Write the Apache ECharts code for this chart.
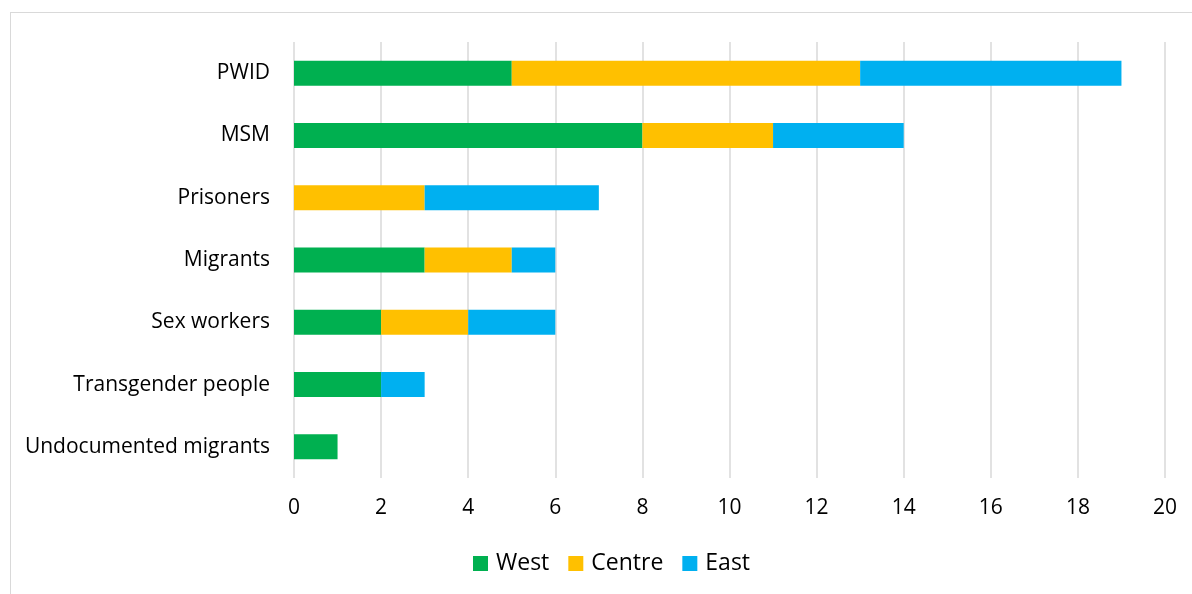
<!DOCTYPE html>
<html><head><meta charset="utf-8">
<script src="https://cdn.jsdelivr.net/npm/echarts@6/dist/echarts.min.js"></script>
<style>html,body{margin:0;padding:0;background:#fff}#frame{position:absolute;left:10px;top:12px;width:1300px;height:700px;border:1.5px solid #d9d9d9;box-sizing:border-box}#c{position:absolute;left:0;top:0;width:1192px;height:594px}</style>
</head><body><div id="frame"></div><div id="c"></div>
<script>
const categories = ["PWID","MSM","Prisoners","Migrants","Sex workers","Transgender people","Undocumented migrants"];
const west = [5,8,0,3,2,2,1];
const centre = [8,3,3,2,2,0,0];
const east = [6,3,4,1,2,1,0];
const xTicks = {min:0,max:20,interval:2};
const font = "'Open Sans', sans-serif";
const chart = echarts.init(document.getElementById('c'));
const mk = (name, data, color) => ({name, type:'bar', stack:'t', data, barWidth:25, itemStyle:{color}, emphasis:{disabled:true}});
chart.setOption({
  animation:false,
  textStyle:{fontFamily:font},
  grid:{left:294,right:27,top:42,bottom:116,containLabel:false},
  legend:{bottom:14,left:468,itemWidth:15,itemHeight:15,itemGap:19,icon:'rect',
    textStyle:{fontSize:23,color:'#000',fontFamily:font,padding:[0,0,0,3]},
    data:['West','Centre','East']},
  xAxis:{type:'value',min:xTicks.min,max:xTicks.max,interval:xTicks.interval,
    axisLine:{show:false},axisTick:{show:false},
    axisLabel:{fontSize:21,color:'#000',margin:20,fontFamily:font},
    splitLine:{lineStyle:{color:'#d9d9d9',width:1.5}}},
  yAxis:{type:'category',data:categories,inverse:true,
    axisLine:{show:false},axisTick:{show:false},
    axisLabel:{fontSize:21,color:'#000',margin:24,fontFamily:font}},
  series:[mk('West',west,'#00b050'),mk('Centre',centre,'#ffc000'),mk('East',east,'#00b0f0')]
});
</script></body></html>
